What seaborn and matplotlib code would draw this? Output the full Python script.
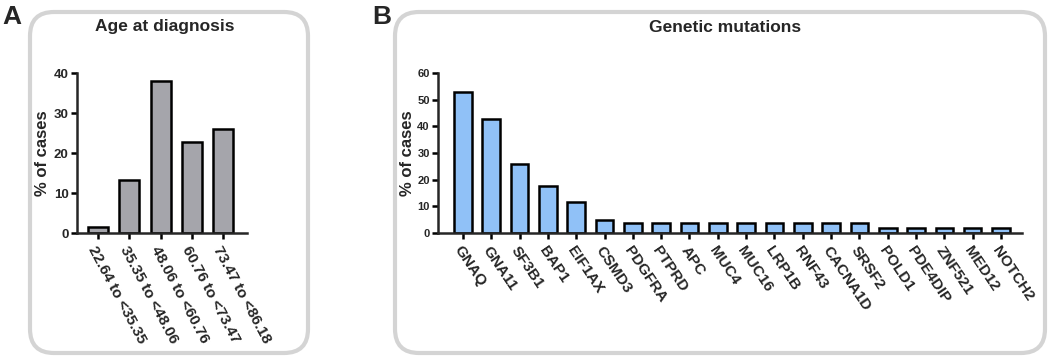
import matplotlib
matplotlib.use("Agg")
import matplotlib.pyplot as plt
import matplotlib.transforms as mtransforms
from matplotlib.patches import FancyBboxPatch
import seaborn as sns
import pandas as pd

# data
age_groups = ["22.64 to <35.35", "35.35 to <48.06", "48.06 to <60.76",
              "60.76 to <73.47", "73.47 to <86.18"]
age_pct = [1.5, 13.3, 37.9, 22.8, 25.9]

genes = ["GNAQ", "GNA11", "SF3B1", "BAP1", "EIF1AX", "CSMD3", "PDGFRA", "PTPRD",
         "APC", "MUC4", "MUC16", "LRP1B", "RNF43", "CACNA1D", "SRSF2", "POLD1",
         "PDE4DIP", "ZNF521", "MED12", "NOTCH2"]
gene_pct = [53.0, 42.7, 25.8, 17.8, 11.8, 4.9, 3.7, 3.7, 3.7, 3.7, 3.7, 3.7,
            3.7, 3.7, 3.7, 1.8, 1.8, 1.8, 1.8, 1.8]

sns.set_style("ticks")
plt.rcParams["font.family"] = ["Liberation Sans", "DejaVu Sans"]
plt.rcParams["font.weight"] = "bold"

W, H = 1052, 360
fig = plt.figure(figsize=(W / 100, H / 100), dpi=100)


def px_axes(left, top, right, bottom):
    # pixel box (from top-left) -> figure fraction
    return fig.add_axes([left / W, 1 - bottom / H, (right - left) / W, (bottom - top) / H])


def rounded_box(x0, y0, x1, y1):
    box = FancyBboxPatch((x0, H - y1), x1 - x0, y1 - y0,
                         boxstyle="round,pad=0,rounding_size=24",
                         transform=mtransforms.IdentityTransform(),
                         facecolor="none", edgecolor="#d4d4d4", linewidth=3)
    fig.patches.append(box)


def style_axes(ax, yticks, ysize, rot):
    sns.despine(ax=ax)
    for s in ["left", "bottom"]:
        ax.spines[s].set_linewidth(1.8)
    ax.tick_params(axis="both", width=1.8, length=4, color="black")
    ax.tick_params(axis="y", labelsize=ysize, pad=2)
    ax.set_yticks(yticks)
    ax.set_ylim(yticks[0], yticks[-1])
    ax.set_xlabel("")
    ax.set_ylabel("% of cases", fontsize=12, fontweight="bold")
    for lab in ax.get_yticklabels():
        lab.set_fontweight("bold")
    for lab in ax.get_xticklabels():
        lab.set_rotation(rot)
        lab.set_ha("left")
        lab.set_rotation_mode("anchor")
        lab.set_fontsize(11)
        lab.set_fontweight("bold")


rounded_box(30, 12, 308, 353)
rounded_box(395, 12, 1045, 353)

# Panel A
dfa = pd.DataFrame({"group": age_groups, "pct": age_pct})
axa = px_axes(77, 73, 247, 233)
sns.barplot(data=dfa, x="group", y="pct", ax=axa, color="#a5a5ab",
            saturation=1, width=0.64, edgecolor="black", linewidth=1.8)
axa.set_xlim(-0.67, 4.76)
style_axes(axa, [0, 10, 20, 30, 40], 9.5, -62)
axa.yaxis.set_label_coords(-0.16, 0.5)

# Panel B
dfb = pd.DataFrame({"gene": genes, "pct": gene_pct})
axb = px_axes(438, 73, 1022, 233)
sns.barplot(data=dfb, x="gene", y="pct", ax=axb, color="#90c1f7",
            saturation=1, width=0.62, edgecolor="black", linewidth=1.8)
axb.set_xlim(-0.88, 19.74)
style_axes(axb, [0, 10, 20, 30, 40, 50, 60], 8, -56)
axb.yaxis.set_label_coords(-0.04, 0.5)

fig.text(165 / W, 1 - 27 / H, "Age at diagnosis", ha="center", va="center",
         fontsize=12.5, fontweight="bold")
fig.text(725 / W, 1 - 27 / H, "Genetic mutations", ha="center", va="center",
         fontsize=12.5, fontweight="bold")
fig.text(2 / W, 1 - 17 / H, "A", ha="left", va="center", fontsize=19, fontweight="bold")
fig.text(372 / W, 1 - 17 / H, "B", ha="left", va="center", fontsize=19, fontweight="bold")

fig.savefig("out.png", dpi=100)
